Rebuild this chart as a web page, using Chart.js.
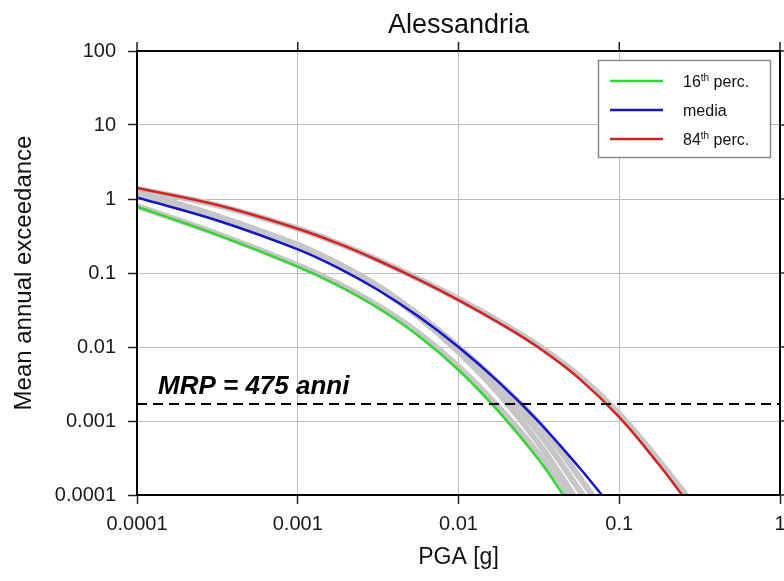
<!DOCTYPE html>
<html>
<head>
<meta charset="utf-8">
<script src="https://cdn.jsdelivr.net/npm/chart.js@4/dist/chart.umd.min.js"></script>
<style>
  html, body { margin: 0; padding: 0; background: #fff; }
  #wrap { width: 784px; height: 581px; position: relative; }
</style>
</head>
<body>
<div id="wrap"><canvas id="c" width="784" height="581"></canvas></div>
<script>
// ---- data ----
const chartTitle = 'Alessandria';
const xTitle = 'PGA [g]';
const yTitle = 'Mean annual exceedance';
const xTickVals = [0.0001, 0.001, 0.01, 0.1, 1];
const xTickLabels = ['0.0001', '0.001', '0.01', '0.1', '1'];
const yTickVals = [100, 10, 1, 0.1, 0.01, 0.001, 0.0001];
const yTickLabels = ['100', '10', '1', '0.1', '0.01', '0.001', '0.0001'];
const seriesNames = ['16th perc.', 'media', '84th perc.'];

const pgaGreen  = [0.0001, 0.000316, 0.001, 0.00178, 0.00316, 0.00562, 0.01, 0.0178, 0.0316, 0.0448];
const rateGreen = [0.787, 0.328, 0.122, 0.0678, 0.0336, 0.01416, 0.00489, 0.001337, 0.000299, 0.0001];

const pgaBlue  = [0.0001, 0.000316, 0.001, 0.00178, 0.00316, 0.00562, 0.01, 0.0178, 0.0316, 0.0562, 0.078];
const rateBlue = [1.047, 0.513, 0.209, 0.1175, 0.0589, 0.026, 0.01, 0.00335, 0.000972, 0.000237, 0.0001];

const pgaRed  = [0.0001, 0.000316, 0.001, 0.00178, 0.00316, 0.00562, 0.01, 0.0178, 0.0316, 0.0562, 0.1, 0.178, 0.246];
const rateRed = [1.41, 0.83, 0.397, 0.251, 0.1476, 0.082, 0.0431, 0.0213, 0.00975, 0.00377, 0.001125, 0.000252, 0.0001];

// grey logic-tree branches
const pgaGrey1  = [0.0001, 0.000316, 0.001, 0.00178, 0.00316, 0.00562, 0.01, 0.0178, 0.0316, 0.0518];
const rateGrey1 = [1.259, 0.589, 0.24, 0.1334, 0.0638, 0.0257, 0.00861, 0.002355, 0.000498, 0.0001];
const pgaGrey2  = [0.0001, 0.000316, 0.001, 0.00178, 0.00316, 0.00562, 0.01, 0.0178, 0.0316, 0.0594];
const rateGrey2 = [1.23, 0.575, 0.234, 0.1318, 0.0646, 0.0272, 0.00966, 0.00285, 0.000696, 0.0001];
const pgaGrey3  = [0.0001, 0.000316, 0.001, 0.00178, 0.00316, 0.00562, 0.01, 0.0178, 0.0316, 0.0679];
const rateGrey3 = [1.202, 0.562, 0.234, 0.1334, 0.0668, 0.0275, 0.01, 0.00324, 0.000933, 0.0001];
const pgaGrey4  = [0.0001, 0.000316, 0.001, 0.00178, 0.00316, 0.00562, 0.01, 0.0178, 0.0316, 0.047];
const rateGrey4 = [0.805, 0.339, 0.1274, 0.0716, 0.0359, 0.0155, 0.00543, 0.00153, 0.000355, 0.0001];
const pgaGrey5  = [0.0001, 0.000316, 0.001, 0.00178, 0.00316, 0.00562, 0.01, 0.0178, 0.0316, 0.0562, 0.1, 0.178, 0.26];
const rateGrey5 = [1.38, 0.822, 0.398, 0.252, 0.1496, 0.0838, 0.0445, 0.0223, 0.01035, 0.00407, 0.001245, 0.000285, 0.0001];

const mrpLevel = [0.0017, 0.0017];
const mrpPga = [0.0001, 1];
const mrpLabel = 'MRP = 475 anni';

// ---- styles ----
const GREEN = '#33d633', BLUE = '#1414c8', RED = '#d42222', GREY = '#c6c6c6';
const FONT = '"Liberation Sans", Arial, Helvetica, sans-serif';

const pts = (xs, ys) => xs.map((x, i) => ({x, y: ys[i]}));
const colored = (label, xs, ys, color) => ({
  label, data: pts(xs, ys), borderColor: color, borderWidth: 2.5,
  pointRadius: 0, tension: 0.4, clip: 0, fill: false
});
const grey = (xs, ys) => ({
  label: '', data: pts(xs, ys), borderColor: GREY, borderWidth: 6,
  pointRadius: 0, tension: 0.4, clip: 0, fill: false
});

const datasets = [
  { label: 'MRP', data: pts(mrpPga, mrpLevel), borderColor: '#000', borderWidth: 2,
    borderDash: [10, 6], pointRadius: 0, clip: 0, fill: false },
  colored(seriesNames[2], pgaRed, rateRed, RED),
  colored(seriesNames[1], pgaBlue, rateBlue, BLUE),
  colored(seriesNames[0], pgaGreen, rateGreen, GREEN),
  grey(pgaGrey1, rateGrey1), grey(pgaGrey2, rateGrey2), grey(pgaGrey3, rateGrey3),
  grey(pgaGrey4, rateGrey4), grey(pgaGrey5, rateGrey5)
];

const legendColors = [GREEN, BLUE, RED];

const decorPlugin = {
  id: 'decor',
  afterDatasetsDraw(chart) {
    const {ctx, chartArea: a, scales: {x, y}} = chart;
    ctx.save();
    ctx.strokeStyle = '#000'; ctx.lineWidth = 2;
    ctx.strokeRect(a.left, a.top, a.right - a.left, a.bottom - a.top);
    ctx.strokeStyle = '#222'; ctx.lineWidth = 1.5;
    x.ticks.forEach(t => {
      const px = x.getPixelForValue(t.value);
      ctx.beginPath(); ctx.moveTo(px, a.top); ctx.lineTo(px, a.top - 9); ctx.stroke();
    });
    y.ticks.forEach(t => {
      const py = y.getPixelForValue(t.value);
      ctx.beginPath(); ctx.moveTo(a.right, py); ctx.lineTo(a.right + 9, py); ctx.stroke();
    });
    ctx.fillStyle = '#111';
    ctx.font = '27px ' + FONT; ctx.textAlign = 'center'; ctx.textBaseline = 'alphabetic';
    ctx.fillText(chartTitle, (a.left + a.right) / 2, 33);
    ctx.font = 'italic bold 26px ' + FONT; ctx.textAlign = 'left'; ctx.fillStyle = '#000';
    ctx.fillText(mrpLabel, a.left + 21, y.getPixelForValue(mrpLevel[0]) - 10);
    const lx = 598.5, ly = 60.5, lw = 172, lh = 97;
    ctx.fillStyle = '#fff'; ctx.fillRect(lx, ly, lw, lh);
    ctx.strokeStyle = '#8a8a8a'; ctx.lineWidth = 1.5; ctx.strokeRect(lx, ly, lw, lh);
    seriesNames.forEach((name, i) => {
      const yy = 81 + i * 29;
      ctx.strokeStyle = legendColors[i]; ctx.lineWidth = 2.5;
      ctx.beginPath(); ctx.moveTo(610, yy); ctx.lineTo(663, yy); ctx.stroke();
      ctx.fillStyle = '#111'; ctx.textAlign = 'left'; ctx.textBaseline = 'alphabetic';
      const m = name.match(/^(\d+)(th)(.*)$/);
      let tx = 683; const base = yy + 6;
      if (m) {
        ctx.font = '16px ' + FONT; ctx.fillText(m[1], tx, base); tx += ctx.measureText(m[1]).width;
        ctx.font = '10px ' + FONT; ctx.fillText(m[2], tx, base - 6); tx += ctx.measureText(m[2]).width;
        ctx.font = '16px ' + FONT; ctx.fillText(m[3], tx, base);
      } else {
        ctx.font = '16px ' + FONT; ctx.fillText(name, tx, base);
      }
    });
    ctx.restore();
  }
};

new Chart(document.getElementById('c'), {
  type: 'line',
  data: { datasets },
  options: {
    responsive: false,
    animation: false,
    events: [],
    layout: { padding: { left: 0, right: 4, top: 51, bottom: 0 } },
    plugins: { legend: { display: false }, tooltip: { enabled: false }, title: { display: false } },
    scales: {
      x: {
        type: 'logarithmic', min: 0.0001, max: 1, position: 'bottom',
        afterBuildTicks: s => { s.ticks = xTickVals.map(v => ({value: v})); },
        afterFit: s => { s.height = 86; s.paddingLeft = 0; s.paddingRight = 0; },
        ticks: { callback: (v, i) => xTickLabels[i], maxRotation: 0, autoSkip: false,
                 padding: 8, color: '#1a1a1a', font: { family: FONT, size: 20 } },
        grid: { color: '#bdbdbd', lineWidth: 1, tickColor: '#222', tickLength: 9, tickWidth: 1.5 },
        border: { display: true, color: '#000', width: 2 },
        title: { display: true, text: xTitle, color: '#111', font: { family: FONT, size: 23 },
                 padding: { top: 0, bottom: 10 } }
      },
      y: {
        type: 'logarithmic', min: 0.0001, max: 100, position: 'left',
        afterBuildTicks: s => { s.ticks = yTickVals.map(v => ({value: v})); },
        afterFit: s => { s.width = 137; s.paddingTop = 0; s.paddingBottom = 0; },
        ticks: { callback: (v, i) => yTickLabels[i], autoSkip: false,
                 padding: 12, color: '#1a1a1a', font: { family: FONT, size: 20 } },
        grid: { color: '#bdbdbd', lineWidth: 1, tickColor: '#222', tickLength: 9, tickWidth: 1.5 },
        border: { display: true, color: '#000', width: 2 },
        title: { display: true, text: yTitle, color: '#111', font: { family: FONT, size: 24 },
                 padding: { top: 10, bottom: 0 } }
      }
    }
  },
  plugins: [decorPlugin]
});
</script>
</body>
</html>
